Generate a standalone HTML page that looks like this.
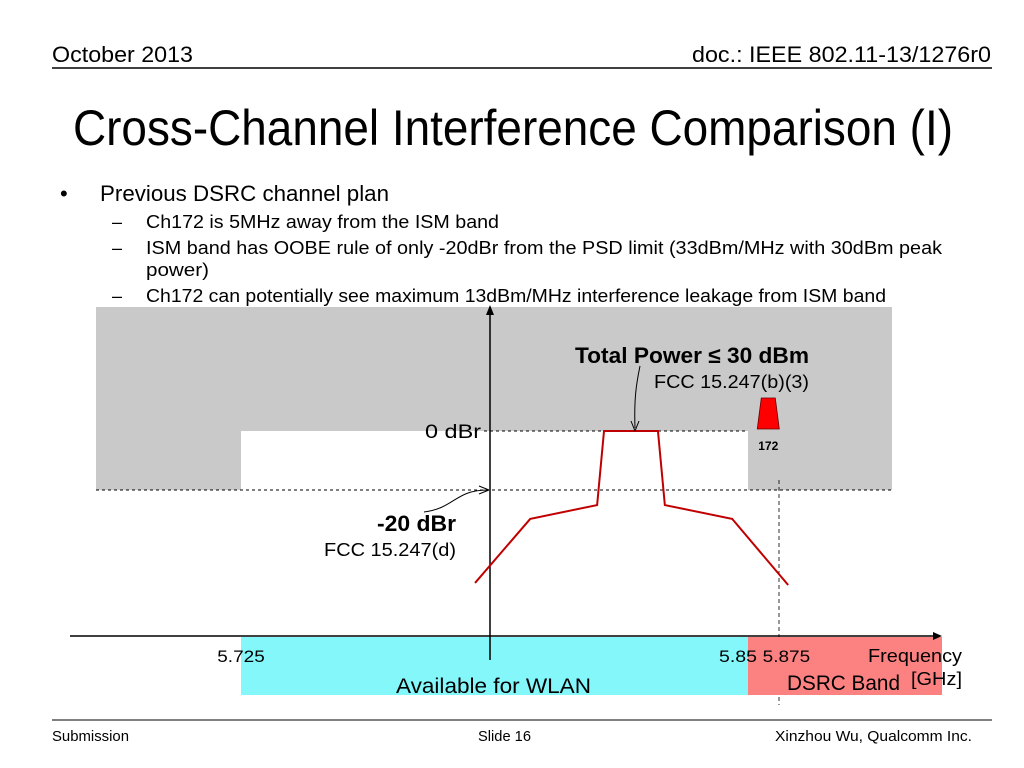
<!DOCTYPE html>
<html><head><meta charset="utf-8"><style>
html,body{margin:0;padding:0;background:#fff;}
svg{display:block;}
text{font-family:"Liberation Sans Narrow","Liberation Sans",sans-serif;}
.a{font-family:"Liberation Sans",sans-serif;}
</style></head><body>
<svg id="s" width="1024" height="768" viewBox="0 0 1024 768">
<text x="52" y="62" font-size="22" textLength="141" lengthAdjust="spacingAndGlyphs">October 2013</text>
<text x="692" y="62" font-size="22" textLength="299" lengthAdjust="spacingAndGlyphs">doc.: IEEE 802.11-13/1276r0</text>
<line x1="52" y1="68" x2="992" y2="68" stroke="#000" stroke-width="1.5"/>
<text x="73" y="145" font-size="50" textLength="880" lengthAdjust="spacingAndGlyphs">Cross-Channel Interference Comparison (I)</text>
<text x="60" y="201" font-size="22">•</text>
<text x="100" y="201" font-size="22" textLength="289" lengthAdjust="spacingAndGlyphs">Previous DSRC channel plan</text>
<g font-size="18">
<text x="112" y="228">–</text><text x="146" y="228" textLength="353" lengthAdjust="spacingAndGlyphs">Ch172 is 5MHz away from the ISM band</text>
<text x="112" y="254">–</text><text x="146" y="254" textLength="796" lengthAdjust="spacingAndGlyphs">ISM band has OOBE rule of only -20dBr from the PSD limit (33dBm/MHz with 30dBm peak</text>
<text x="146" y="276" textLength="63" lengthAdjust="spacingAndGlyphs">power)</text>
<text x="112" y="302">–</text><text x="146" y="302" textLength="740" lengthAdjust="spacingAndGlyphs">Ch172 can potentially see maximum 13dBm/MHz interference leakage from ISM band</text>
</g>
<g id="chart"></g>
<line x1="52" y1="720" x2="992" y2="720" stroke="#000" stroke-width="1"/>
<text x="52" y="741" font-size="15" textLength="77" lengthAdjust="spacingAndGlyphs">Submission</text>
<text x="478" y="741" font-size="15" textLength="53" lengthAdjust="spacingAndGlyphs">Slide 16</text>
<text x="775" y="741" font-size="15" textLength="197" lengthAdjust="spacingAndGlyphs">Xinzhou Wu, Qualcomm Inc.</text>
</svg>
<script>
// data (frequency in MHz, level in dBr)
const maskFreqs = [5725, 5850];
const maskLevels = [0, -20];
const spectrumFreqs = [5782.7, 5796.3, 5812.8, 5814.5, 5827.8, 5829.5, 5846.1, 5859.9];
const spectrumLevels = [-51.5, -29.8, -25.1, 0, 0, -25.1, -29.8, -52.2];
const tickFreqs = [5725, 5850, 5857.5];
const tickLabels = ["5.725", "5.85", "5.875"];
const ch172Freq = 5855;

const NS = "http://www.w3.org/2000/svg";
const g = document.getElementById('chart');
const xS = f => 241 + (f - 5725) * 4.056;
const yS = d => 431 - d * 2.95;
function mk(tag, attrs, parent, txt) {
  const e = document.createElementNS(NS, tag);
  for (const k in attrs) e.setAttribute(k, attrs[k]);
  if (txt !== undefined) e.textContent = txt;
  (parent || g).appendChild(e);
  return e;
}
let e;
e = mk('rect', {x: 96, y: 307, width: 796, height: yS(maskLevels[1]) - 307, fill: '#c9c9c9'});


e = mk('rect', {x: xS(maskFreqs[0]), y: yS(maskLevels[0]), width: xS(maskFreqs[1]) - xS(maskFreqs[0]), height: yS(maskLevels[1]) - yS(maskLevels[0]), fill: '#fff'});


e = mk('line', {x1: 484, y1: yS(0), x2: xS(maskFreqs[1]), y2: yS(0), stroke: '#000', 'stroke-dasharray': '3,3', 'stroke-width': 1});


e = mk('line', {x1: 96, y1: yS(-20), x2: 892, y2: yS(-20), stroke: '#000', 'stroke-dasharray': '3,3', 'stroke-width': 1});


e = mk('line', {x1: 779, y1: 480, x2: 779, y2: 705, stroke: '#000', 'stroke-dasharray': '4,3', 'stroke-width': 0.8});


e = mk('rect', {x: xS(5725), y: 637, width: xS(5850) - xS(5725), height: 58, fill: '#84f7fb'});


e = mk('rect', {x: xS(5850), y: 637, width: 942 - xS(5850), height: 58, fill: '#fc8282'});


e = mk('line', {x1: 70, y1: 636, x2: 936, y2: 636, stroke: '#000', 'stroke-width': 1.5});


mk('path', {d: 'M942 636 L933 632 L933 640 Z', fill: '#000'});
e = mk('line', {x1: 490, y1: 312, x2: 490, y2: 660, stroke: '#000', 'stroke-width': 1.5});


mk('path', {d: 'M490 305 L486 315 L494 315 Z', fill: '#000'});
e = mk('polyline', {points: spectrumFreqs.map((f, i) => xS(f) + ',' + yS(spectrumLevels[i])).join(' '), fill: 'none', stroke: '#c00000', 'stroke-width': 2});


const cx = xS(ch172Freq);
e = mk('path', {d: `M${cx-7} 398 L${cx+7} 398 L${cx+11} 429 L${cx-11} 429 Z`, fill: '#ff0000', stroke: '#600', 'stroke-width': 0.8});


e = mk('text', {x: cx, y: 450, 'font-size': 12, 'font-weight': 'bold', 'text-anchor': 'middle', class: 'a'}, g, '172');


const tickShift = [0, -10, 8];
tickFreqs.forEach((f, i) => {
  const t = mk('text', {x: xS(f) + tickShift[i], y: 662, 'font-size': 17, 'text-anchor': 'middle', textLength: tickLabels[i].length * 9.5, lengthAdjust: 'spacingAndGlyphs', class: 'a'}, g, tickLabels[i]);
  
  
});
const ann = [
  [575, 363, 22, 'bold', 234, 'Total Power ≤ 30 dBm', 'total-power-label'],
  [654, 388, 18, 'normal', 155, 'FCC 15.247(b)(3)', 'fcc-b3-label'],
  [425, 438, 19, 'normal', 56, '0 dBr', 'zero-dbr-label'],
  [377, 531, 22, 'bold', 79, '-20 dBr', 'minus20-dbr-label'],
  [324, 556, 18, 'normal', 132, 'FCC 15.247(d)', 'fcc-d-label'],
  [868, 662, 18, 'normal', 94, 'Frequency', 'frequency-label'],
  [911, 685, 18, 'normal', 51, '[GHz]', 'ghz-label'],
  [396, 693, 21, 'normal', 195, 'Available for WLAN', 'wlan-label'],
  [787, 690, 21, 'normal', 113, 'DSRC Band', 'dsrc-label']
];
ann.forEach(a => {
  const t = mk('text', {x: a[0], y: a[1], 'font-size': a[2], 'font-weight': a[3], textLength: a[4], lengthAdjust: 'spacingAndGlyphs', class: 'a'}, g, a[5]);
  
  
});
mk('path', {d: 'M640 366 C636 385, 634 400, 635 428', fill: 'none', stroke: '#000', 'stroke-width': 1});
mk('path', {d: 'M635 431 L631 421 M635 431 L639 421', fill: 'none', stroke: '#000', 'stroke-width': 1});
mk('path', {d: 'M424 512 C455 508, 455 490, 488 490', fill: 'none', stroke: '#000', 'stroke-width': 1});
mk('path', {d: 'M489 490 L479 486 M489 490 L479 494', fill: 'none', stroke: '#000', 'stroke-width': 1});
</script>
</body></html>
